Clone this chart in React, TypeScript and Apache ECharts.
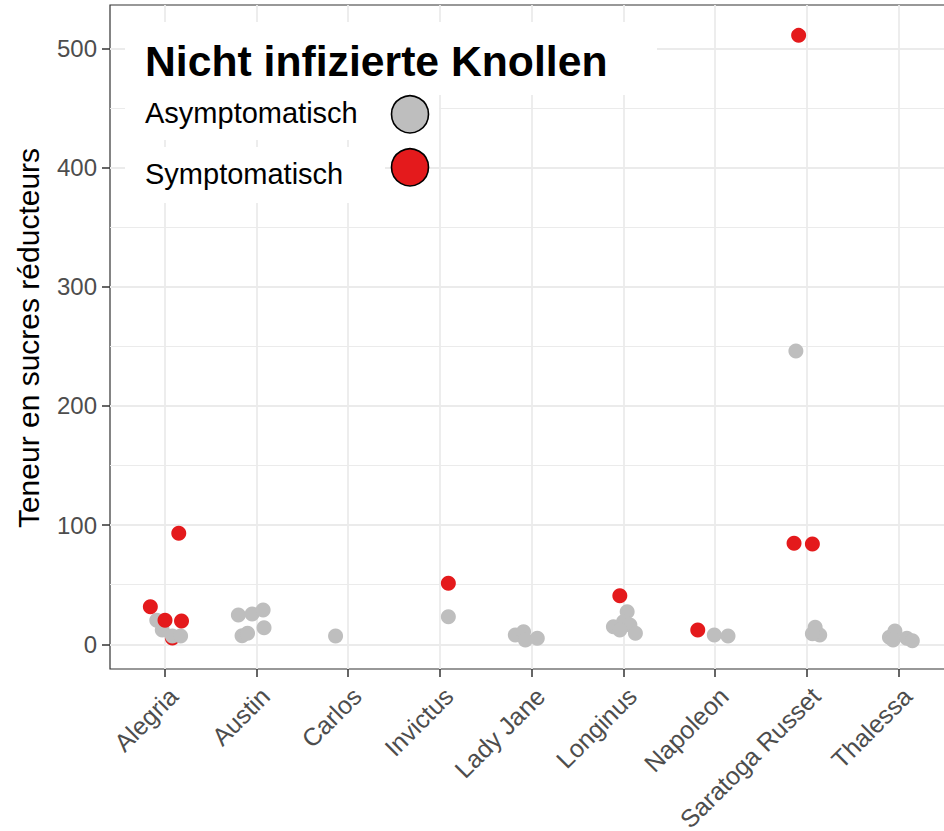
import React, { useEffect, useRef } from "react";
import * as echarts from "echarts";

const categories = ["Alegria", "Austin", "Carlos", "Invictus", "Lady Jane", "Longinus", "Napoleon", "Saratoga Russet", "Thalessa"];
const yTicks = [0, 100, 200, 300, 400, 500];

// Asymptomatisch (grey) points: category, horizontal jitter (in category units), value
const asymCategory = [
  "Alegria", "Alegria", "Alegria", "Alegria",
  "Austin", "Austin", "Austin", "Austin", "Austin", "Austin",
  "Carlos",
  "Invictus",
  "Lady Jane", "Lady Jane", "Lady Jane", "Lady Jane",
  "Longinus", "Longinus", "Longinus", "Longinus", "Longinus", "Longinus",
  "Napoleon", "Napoleon",
  "Saratoga Russet", "Saratoga Russet", "Saratoga Russet", "Saratoga Russet",
  "Thalessa", "Thalessa", "Thalessa", "Thalessa", "Thalessa",
];
const asymJitter = [
  -0.09, -0.03, 0.08, 0.17,
  -0.2, -0.05, 0.07, 0.08, -0.16, -0.1,
  -0.14,
  0.09,
  -0.18, -0.09, -0.07, 0.06,
  0.04, -0.11, 0.0, 0.07, 0.13, -0.04,
  -0.01, 0.14,
  -0.12, 0.09, 0.14, 0.06,
  -0.1, -0.04, -0.06, 0.09, 0.15,
];
const asymValue = [
  20, 11.7, 6.7, 6.7,
  24.3, 25.2, 28.5, 13.7, 7, 9,
  6.7,
  22.9,
  7.5, 10.3, 3.4, 4.8,
  27.1, 14.5, 18.7, 15.9, 9, 11.7,
  7.5, 6.7,
  246, 14, 7.5, 8.5,
  5.6, 10.9, 3.4, 4.8, 2.8,
];

// Symptomatisch (red) points; drawnUnder = point is plotted before (beneath) the grey points
const symCategory = [
  "Alegria", "Alegria", "Alegria", "Alegria", "Alegria",
  "Invictus",
  "Longinus",
  "Napoleon",
  "Saratoga Russet", "Saratoga Russet", "Saratoga Russet",
];
const symJitter = [0.08, 0.15, -0.16, 0.0, 0.18, 0.09, -0.04, -0.19, -0.09, -0.14, 0.06];
const symValue = [5, 93, 31.3, 20, 19.3, 50.9, 40.5, 11.7, 511, 84.5, 84];
const symDrawnUnder = [true, false, false, false, false, false, false, false, false, false, false];

const legendTitle = "Nicht infizierte Knollen";
const legendLabels = ["Asymptomatisch", "Symptomatisch"];
const yTitle = "Teneur en sucres réducteurs";

const GREY = "#BEBEBE";
const RED = "#E41A1C";
const GRID_COLOR = "#EBEBEB";
const FONT = "'Liberation Sans', Arial, Helvetica, sans-serif";

function toPoints(cats: string[], jit: number[], vals: number[], keep?: (i: number) => boolean) {
  const out: number[][] = [];
  vals.forEach((v, i) => {
    if (!keep || keep(i)) out.push([categories.indexOf(cats[i]) + jit[i], v]);
  });
  return out;
}

export default function App() {
  const ref = useRef<HTMLDivElement>(null);
  useEffect(() => {
    if (!ref.current) return;
    const chart = echarts.init(ref.current, null, { renderer: "svg" });
    const top = 5;
    const bottom = 162;
    const scatterBase = { type: "scatter", xAxisIndex: 0, yAxisIndex: 0, symbol: "circle", symbolSize: 15 };
    const option: any = {
      animation: false,
      textStyle: { fontFamily: FONT },
      grid: [
        // main plotting panel (with ggplot-like expansion)
        { left: 110, right: -9.6, top, bottom, outerBoundsMode: "none", containLabel: false, show: true, borderColor: "#333333", borderWidth: 1.2, backgroundColor: "transparent" },
        // categorical ticks / labels / vertical grid
        { left: 164.6, right: 45.4, top, bottom, outerBoundsMode: "none", containLabel: false },
        // y ticks / labels / horizontal grid
        { left: 110, right: -9.6, top: 48.3, bottom: 186.7, outerBoundsMode: "none", containLabel: false },
      ],
      xAxis: [
        { type: "value", gridIndex: 0, min: -0.6, max: 8.6, show: false },
        {
          type: "value", gridIndex: 1, min: 0, max: categories.length - 1, interval: 1,
          axisLine: { show: false },
          axisTick: { show: true, length: 8, lineStyle: { color: "#333333", width: 1.5 } },
          splitLine: { show: true, lineStyle: { color: GRID_COLOR, width: 1.8 } },
          axisLabel: {
            rotate: 45, fontSize: 25, color: "#4D4D4D", margin: 14, verticalAlign: "top",
            formatter: (v: number) => categories[Math.round(v)] ?? "",
          },
        },
        { type: "value", gridIndex: 2, min: 0, max: 1, show: false },
      ],
      yAxis: [
        { type: "value", gridIndex: 0, min: -21, max: 536.5, show: false },
        { type: "value", gridIndex: 1, min: 0, max: 1, show: false },
        {
          type: "value", gridIndex: 2, min: yTicks[0], max: yTicks[yTicks.length - 1], interval: 100,
          axisLine: { show: false },
          axisTick: { show: true, length: 8, lineStyle: { color: "#333333", width: 1.5 } },
          minorTick: { show: false, splitNumber: 2 },
          splitLine: { show: true, lineStyle: { color: GRID_COLOR, width: 1.8 } },
          minorSplitLine: { show: true, lineStyle: { color: GRID_COLOR, width: 1 } },
          axisLabel: { fontSize: 24, color: "#4D4D4D", margin: 13 },
        },
      ],
      series: [
        {
          ...scatterBase, name: legendLabels[1], z: 2,
          itemStyle: { color: RED, opacity: 1 },
          data: toPoints(symCategory, symJitter, symValue, (i) => symDrawnUnder[i]),
        },
        {
          ...scatterBase, name: legendLabels[0], z: 3,
          itemStyle: { color: GREY, opacity: 1 },
          data: toPoints(asymCategory, asymJitter, asymValue),
        },
        {
          ...scatterBase, name: legendLabels[1], z: 4,
          itemStyle: { color: RED, opacity: 1 },
          data: toPoints(symCategory, symJitter, symValue, (i) => !symDrawnUnder[i]),
        },
      ],
      graphic: [
        { type: "rect", z: 50, shape: { x: 125, y: 22, width: 532, height: 73 }, style: { fill: "#FFFFFF" } },
        { type: "rect", z: 50, shape: { x: 125, y: 95, width: 314, height: 45 }, style: { fill: "#FFFFFF" } },
        { type: "rect", z: 50, shape: { x: 125, y: 147, width: 260, height: 56 }, style: { fill: "#FFFFFF" } },
        {
          type: "text", z: 51, x: 145, y: 60.5,
          style: { text: legendTitle, fontSize: 42.7, fontWeight: "bold", fill: "#000", fontFamily: FONT, align: "left", verticalAlign: "middle" },
        },
        {
          type: "text", z: 51, x: 145, y: 113.3,
          style: { text: legendLabels[0], fontSize: 29, fill: "#000", fontFamily: FONT, align: "left", verticalAlign: "middle" },
        },
        {
          type: "text", z: 51, x: 145, y: 174,
          style: { text: legendLabels[1], fontSize: 29, fill: "#000", fontFamily: FONT, align: "left", verticalAlign: "middle" },
        },
        { type: "circle", z: 51, shape: { cx: 410, cy: 114.3, r: 18.5 }, style: { fill: GREY, stroke: "#000", lineWidth: 1.6 } },
        { type: "circle", z: 51, shape: { cx: 410, cy: 167.3, r: 18.5 }, style: { fill: RED, stroke: "#000", lineWidth: 1.6 } },
        {
          type: "text", z: 51, x: 28, y: 338, rotation: Math.PI / 2,
          style: { text: yTitle, fontSize: 30, fill: "#000", fontFamily: FONT, align: "center", verticalAlign: "middle" },
        },
      ],
    };
    chart.setOption(option);
    return () => chart.dispose();
  }, []);
  return <div ref={ref} style={{ position: "fixed", left: 0, top: 0, width: 944, height: 831, background: "#fff" }} />;
}
